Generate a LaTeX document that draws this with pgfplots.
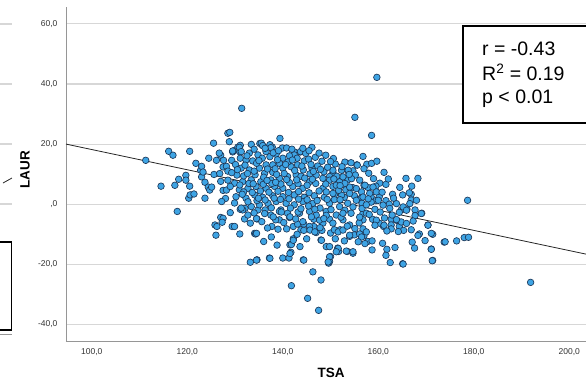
\documentclass[border=0pt]{standalone}
\usepackage{fontspec}
\setmainfont{Liberation Sans}
\usepackage{pgfplots}
\pgfplotsset{compat=1.18}
\definecolor{ptfill}{RGB}{62,164,228}
\definecolor{ptedge}{RGB}{28,55,88}
\definecolor{gridc}{RGB}{215,215,215}
\definecolor{spine}{RGB}{150,150,150}
\begin{document}
\begin{tikzpicture}
\begin{axis}[
  at={(0pt,0pt)}, anchor=south west,
  scale only axis, width=520pt, height=334pt,
  xmin=94.6, xmax=203.5, ymin=-45.5, ymax=65.6,
  axis lines=left, axis line style={-, draw=spine, line width=0.9pt},
  xtick={100,120,140,160,180,200},
  xticklabels={{100,0},{120,0},{140,0},{160,0},{180,0},{200,0}},
  ytick={-40,-20,0,20,40,60},
  yticklabels={{-40,0},{-20,0},{,0},{20,0},{40,0},{60,0}},
  major tick length=0pt,
  ymajorgrids, grid style={draw=gridc, line width=1.1pt},
  tick label style={font=\fontsize{8.5}{10}\selectfont, text=black!80},
  yticklabel style={xshift=-5pt},
  xticklabel style={yshift=-4pt},
  xlabel={TSA}, ylabel={LAUR},
  label style={font=\fontsize{13.5}{15}\selectfont\bfseries},
  x label style={at={(axis description cs:0.51,-0.096)}, anchor=center},
  y label style={at={(axis description cs:-0.079,0.512)}, anchor=center},
  clip=true,
]
\addplot[only marks, mark=*, mark size=3.3pt,
  mark options={fill=ptfill, draw=ptedge, line width=0.65pt}] table {
x y
111.3 14.6
114.5 6.0
116.1 17.6
117.0 16.3
117.4 6.3
117.9 -2.4
118.2 8.3
119.7 9.6
119.7 8.0
120.5 6.0
120.5 17.6
120.3 2.0
120.6 3.1
121.4 3.4
121.8 13.6
122.8 11.3
123.0 9.1
123.0 12.6
123.3 10.7
123.7 2.0
123.7 7.3
124.4 5.7
124.5 15.3
124.7 4.7
125.1 5.7
125.5 20.3
125.6 9.9
125.8 -6.9
126.0 -10.3
126.1 14.6
126.2 -7.4
126.8 10.2
127.0 -4.4
127.5 -4.7
127.3 -6.0
127.0 16.3
126.7 17.0
127.0 7.6
127.5 4.6
127.5 12.4
127.6 14.6
128.2 12.6
128.2 4.7
128.5 8.0
128.5 11.0
128.5 23.6
128.9 23.9
129.3 14.6
129.4 -7.4
129.5 17.4
129.9 17.9
129.9 0.4
129.9 -7.4
130.6 19.0
131.0 -9.9
131.1 19.6
131.0 17.4
131.1 -1.7
131.4 31.9
132.1 -1.4
132.0 -4.9
132.7 -3.6
131.6 -1.9
133.2 -19.3
133.4 19.9
134.1 -9.7
134.3 -9.9
134.6 -18.5
134.6 -4.9
134.8 -1.9
135.2 20.2
135.7 19.6
136.3 -1.9
137.2 -17.9
137.3 19.8
137.6 -10.9
137.7 -7.4
137.8 19.0
139.4 21.9
139.3 -5.2
138.5 -5.2
139.6 -1.9
139.9 18.7
140.0 -17.9
140.8 18.7
140.8 -8.2
141.3 -17.9
141.4 -4.4
141.5 -13.5
141.7 -16.0
141.8 -27.1
142.2 -11.5
142.2 -7.4
142.4 17.4
143.1 -6.6
143.6 -14.1
143.7 17.4
143.8 -8.5
144.3 -18.5
144.4 -6.6
144.4 -8.7
145.2 -31.3
146.1 18.9
146.3 -22.5
146.5 -7.4
146.5 -5.0
147.0 -9.4
147.5 -35.3
148.0 -25.2
148.0 -11.9
148.2 -8.7
149.1 -14.1
149.6 -19.6
149.8 -19.0
149.8 -14.1
150.0 -17.4
150.0 -9.6
149.8 -5.0
150.8 -8.5
151.5 -14.6
151.7 -15.7
152.0 -8.5
152.6 -5.2
152.9 -12.2
153.5 -15.7
154.0 -10.7
154.7 -16.3
155.0 -10.2
155.1 28.9
158.6 22.9
159.7 42.2
156.8 15.9
157.6 13.3
158.6 13.6
159.7 14.3
161.2 10.6
165.8 8.6
168.3 8.6
160.3 7.0
161.6 6.6
157.0 6.3
157.8 5.6
159.5 6.0
164.5 5.6
167.0 6.0
156.4 2.0
158.5 2.5
160.2 2.5
163.0 3.3
165.1 3.1
166.9 3.3
166.9 1.4
161.6 1.2
162.3 0.0
164.8 -1.9
166.0 -1.6
167.7 -1.9
169.1 -3.0
167.7 -3.8
156.6 0.3
159.5 1.2
158.5 0.7
159.3 -1.7
156.8 -3.0
157.5 -3.0
158.8 -5.0
160.2 -6.3
161.3 -4.6
162.7 -5.0
163.9 -5.4
162.7 -6.9
161.1 -7.4
162.7 -8.2
164.4 -7.4
165.3 -8.7
164.2 -9.1
166.9 -8.5
170.4 -6.9
168.6 -9.9
168.3 -10.4
171.4 -10.0
167.1 -12.6
169.8 -12.1
167.6 -14.6
173.8 -12.6
176.4 -12.2
178.0 -11.1
178.9 -11.0
156.8 -8.2
157.0 -10.5
156.1 -9.9
157.8 -12.4
158.7 -12.2
158.7 -15.2
160.9 -13.0
161.8 -15.0
163.5 -14.4
161.6 -17.0
162.5 -19.4
165.1 -19.8
171.1 -14.9
171.4 -18.7
156.8 -5.2
178.7 1.3
191.9 -26.0
130.9 18.9
129.5 17.7
131.3 17.5
135.5 20.3
135.8 19.5
137.5 18.8
142.4 16.4
143.7 17.5
144.5 14.4
145.4 15.0
147.3 12.7
146.1 12.0
150.5 10.6
153.6 11.1
154.7 11.1
155.5 13.1
155.6 13.0
131.1 15.3
132.3 14.7
133.7 14.4
131.3 12.0
130.4 9.7
133.0 11.4
134.8 16.4
136.5 17.5
137.3 15.8
138.6 16.6
140.0 15.3
139.3 13.6
137.9 13.1
136.5 13.1
135.1 12.0
136.2 10.3
137.9 10.6
140.0 12.0
141.7 12.5
143.1 13.1
144.3 11.4
142.8 9.7
141.0 9.2
139.3 8.6
137.5 8.1
135.4 7.5
133.4 8.1
131.6 7.5
129.9 7.0
147.0 9.7
148.4 8.6
145.6 7.5
149.8 9.2
151.9 7.5
153.6 8.1
155.2 9.7
150.5 5.9
148.4 5.3
144.2 5.3
142.1 5.9
140.0 5.3
138.3 5.9
136.5 5.3
134.4 5.9
132.7 5.3
130.9 4.8
153.2 4.8
154.7 5.5
130.2 2.5
132.3 2.0
134.1 3.1
135.8 2.3
137.9 2.8
140.0 2.5
142.4 3.1
144.5 2.3
146.6 2.8
148.7 2.3
150.8 3.1
152.9 2.3
155.0 2.8
131.3 -1.3
133.4 -0.8
135.1 -0.2
136.9 0.3
138.6 0.9
140.7 0.3
142.4 -0.2
144.2 0.9
146.3 0.3
147.8 -1.3
149.8 0.3
151.9 -0.8
153.6 0.3
139.3 -2.4
141.0 -3.0
143.5 -3.0
145.6 -2.4
147.0 -3.6
149.1 -2.4
151.2 -3.6
154.3 -3.0
137.5 -3.6
144.2 -5.8
148.4 -6.3
150.5 -6.3
154.0 -6.9
145.6 -7.4
150.5 11.3
152.3 11.3
153.7 11.3
152.6 9.1
154.4 8.5
156.1 8.0
157.2 6.3
158.9 5.7
159.6 4.1
158.2 3.6
156.5 4.1
156.8 2.4
155.4 5.2
154.0 5.7
153.0 6.9
151.2 6.3
149.8 8.0
154.0 3.6
152.3 3.0
150.5 3.6
149.1 4.1
155.4 1.3
160.0 1.3
161.0 -0.3
162.4 -1.4
163.8 0.2
165.2 -0.9
165.9 -2.0
166.6 0.2
168.0 1.3
169.0 -3.1
170.4 -7.0
171.1 -9.7
174.0 -12.5
171.3 -18.8
171.1 -15.0
165.2 -19.9
164.8 -5.9
165.9 -6.4
163.8 -5.1
161.2 -7.0
161.8 -8.9
159.6 -5.3
159.3 -7.0
157.5 -9.2
156.5 -10.9
157.2 -13.1
155.8 -12.5
154.7 -15.8
153.3 -15.6
151.6 -14.7
151.2 -15.8
149.8 -17.5
149.5 -19.2
137.3 -18.0
134.5 -18.6
144.4 -18.6
141.8 -13.4
141.5 -16.4
142.2 -12.0
134.5 -9.7
145.7 -8.6
146.7 -9.2
148.1 -12.0
151.6 -9.2
152.6 -8.6
154.0 -10.3
155.1 -8.1
147.7 -5.3
149.1 -3.7
146.0 -4.2
143.2 -2.6
141.5 -4.2
139.7 -2.6
138.0 -4.2
136.2 -3.1
134.5 -4.8
131.8 4.1
133.6 3.9
135.3 4.4
137.1 4.0
139.0 4.3
141.2 3.9
143.3 4.2
145.5 3.8
147.6 4.4
151.7 4.6
157.9 1.8
131.0 6.4
132.9 6.9
135.9 6.6
137.7 6.9
139.6 6.7
141.4 7.2
143.2 6.8
145.1 6.3
146.9 6.9
149.0 6.7
152.0 6.2
131.8 9.4
134.2 9.8
136.0 9.0
138.7 9.9
140.3 10.2
143.8 9.3
145.7 10.1
148.6 10.8
151.3 9.3
153.9 9.9
132.1 13.0
134.5 13.6
138.4 11.8
141.1 14.1
142.5 11.2
145.9 13.2
148.2 14.3
149.4 12.3
151.0 13.4
153.0 14.0
133.0 17.0
135.7 15.3
138.0 17.1
141.4 16.1
143.0 15.3
144.8 16.9
146.8 15.6
149.0 16.3
150.6 15.2
132.7 0.8
134.6 1.2
139.5 1.6
143.3 1.7
145.4 -0.6
150.8 1.5
154.7 -0.9
156.6 -1.4
157.5 -0.2
133.2 -6.3
135.6 -5.8
136.8 -7.9
140.2 -6.1
142.7 -4.9
147.8 -7.8
152.2 -4.3
153.0 -2.0
156.0 -6.2
158.1 -3.4
128.0 1.9
129.0 -2.8
127.2 0.9
129.3 10.5
128.8 20.8
130.1 13.2
129.0 5.9
160.8 4.0
162.1 8.4
163.2 2.0
164.4 -2.7
166.5 3.8
167.3 -5.6
160.4 -2.6
162.9 -3.6
159.0 8.5
158.0 10.3
157.0 11.8
156.1 -4.3
130.5 11.5
132.6 10.2
134.0 11.0
135.0 14.5
136.8 11.7
138.9 14.8
140.6 13.2
142.0 14.7
144.0 12.7
146.4 10.9
147.9 11.6
150.0 14.2
152.4 12.5
154.3 13.8
132.5 16.1
134.0 18.3
136.3 18.6
139.1 17.8
141.9 18.3
144.2 18.6
145.5 17.8
147.6 17.0
133.8 6.8
136.7 7.9
138.5 7.3
140.8 8.2
142.9 8.1
144.6 8.7
146.2 8.3
150.7 8.4
131.5 3.3
134.9 2.0
136.3 1.4
138.2 2.0
141.3 1.8
145.1 1.5
147.2 1.2
149.3 1.6
152.0 1.5
141.6 -1.3
143.8 -1.5
137.6 -1.2
134.0 -2.9
146.7 -1.7
150.1 -1.8
152.6 -3.0
148.6 -4.8
139.0 -8.3
143.0 -10.0
145.0 -11.5
138.8 -13.6
136.0 -12.4
151.0 -11.5
153.5 -7.3
};
\addplot[black!85, line width=0.8pt] coordinates {(94.6,20.0) (203.5,-16.6)};
\end{axis}
% stats box
\draw[black, line width=1.2pt, fill=white] (397pt,218pt) rectangle (545pt,315pt);
\node[anchor=base west, inner sep=0pt, font=\fontsize{19.5}{22}\selectfont] at (416pt,285pt) {r = -0.43};
\node[anchor=base west, inner sep=0pt, font=\fontsize{19.5}{22}\selectfont] at (416pt,260pt) {R\textsuperscript{2} = 0.19};
\node[anchor=base west, inner sep=0pt, font=\fontsize{19.5}{22}\selectfont] at (416pt,237pt) {p < 0.01};
% fragment of the neighbouring chart at the left edge
\foreach \yy in {317,257,197,137} {\draw[gridc, line width=1.1pt] (-66pt,\yy pt) -- (-54pt,\yy pt);}
\draw[black!85, line width=0.8pt] (-63pt,158pt) -- (-54pt,163pt);
\draw[spine, line width=0.9pt] (-66pt,7pt) -- (-54pt,7pt);
\draw[black, line width=1.2pt, fill=white] (-70pt,11pt) rectangle (-54.3pt,99pt);
\pgfresetboundingbox
\path[use as bounding box] (-66pt,-42pt) rectangle (520pt,341pt);
\end{tikzpicture}
\end{document}
